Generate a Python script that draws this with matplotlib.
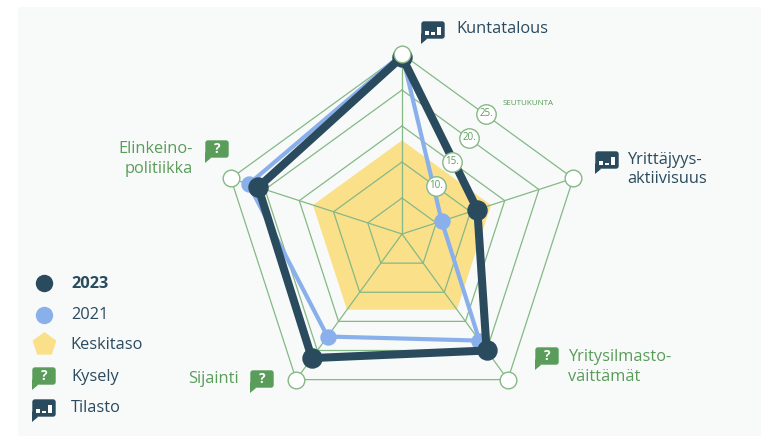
import numpy as np
import matplotlib
matplotlib.use('Agg')
import matplotlib.pyplot as plt
from matplotlib.patches import FancyBboxPatch, Polygon, Rectangle, RegularPolygon

plt.rcParams['font.family'] = ['Open Sans', 'DejaVu Sans']

# Data
axis_labels = ['Kuntatalous', 'Yrittäjyys-\naktiivisuus', 'Yritysilmasto-\nväittämät', 'Sijainti', 'Elinkeino-\npolitiikka']
values_2023 = [24.6, 11, 20, 21.3, 21]
values_2021 = [25, 5.8, 18.3, 17.6, 22.4]
values_avg = [13, 13, 13, 13, 13]
rings = [5, 10, 15, 20, 25]
ring_labels = ['10.', '15.', '20.', '25.']
ring_label_vals = [10, 15, 20, 25]

dark = '#2A4A5E'
blue = '#8AB0EC'
yellow = '#FBE08A'
green = '#5A9C5A'
grid_green = '#86B886'
bg = '#F7FAF8'
W, H = 761, 436
FS = 11.8

fig = plt.figure(figsize=(W / 100, H / 100), dpi=100, facecolor='white')


def pixel_axes(z):
    a = fig.add_axes([0, 0, 1, 1], zorder=z)
    a.set_xlim(0, W)
    a.set_ylim(H, 0)
    a.axis('off')
    return a


# background panel underneath, icons and text on top
back = pixel_axes(0)
back.add_patch(Rectangle((18, 7), W - 18, H - 7, color=bg, lw=0))
over = pixel_axes(2)

# radar
cx, cy, R = 402, 234, 180
ax = fig.add_axes([(cx - R) / W, 1 - (cy + R) / H, 2 * R / W, 2 * R / H], projection='polar', zorder=1)
ax.patch.set_alpha(0)
ax.set_theta_zero_location('N')
ax.set_theta_direction(-1)
ax.set_ylim(0, 25)
ax.axis('off')

angles = np.deg2rad(np.arange(5) * 72)


def closed(a):
    return np.r_[a, a[0]]


ax.fill(closed(angles), closed(values_avg), color=yellow, lw=0, zorder=1)
for r in rings:
    ax.plot(closed(angles), [r] * 6, color=grid_green, lw=0.9, zorder=2)
for t in angles:
    ax.plot([t, t], [0, 25], color=grid_green, lw=0.9, zorder=2)

ax.plot(closed(angles), closed(values_2021), color=blue, lw=3, zorder=3, clip_on=False)
ax.plot(angles, values_2021, 'o', color=blue, ms=10.8, zorder=3, clip_on=False)
ax.plot(closed(angles), closed(values_2023), color=dark, lw=5.8, zorder=4, clip_on=False, solid_joinstyle='round')
ax.plot(angles, values_2023, 'o', color=dark, ms=13.7, zorder=4, clip_on=False)
ax.plot(angles, [25] * 5, 'o', mfc='white', mec=grid_green, mew=1, ms=12, zorder=5, clip_on=False)

# ring labels sit about halfway between the first two spokes
mid = np.deg2rad(35)
for v, s in zip(ring_label_vals, ring_labels):
    r = v * 0.815
    ax.plot([mid], [r], 'o', mfc='white', mec=grid_green, mew=1, ms=14, zorder=6, clip_on=False)
    ax.text(mid, r, s, color=green, fontsize=7, ha='center', va='center', zorder=7)


def bubble(x, y, color, kind):
    # x, y = top left of the bubble, 24x19 px body with a tail at lower left
    over.add_patch(FancyBboxPatch((x + 1, y + 1), 22, 16, boxstyle='round,pad=0,rounding_size=2', fc=color, ec=color, lw=1))
    over.add_patch(Polygon([(x, y + 12), (x + 6, y + 18), (x, y + 23)], fc=color, ec='none'))
    if kind == '?':
        over.text(x + 12, y + 8.5, '?', color='white', fontsize=10, fontweight='bold', ha='center', va='center')
    else:
        over.add_patch(Rectangle((x + 4, y + 10), 4, 4, fc='white', ec='none'))
        over.add_patch(Rectangle((x + 10, y + 11.5), 4, 2.5, fc='white', ec='none'))
        over.add_patch(Rectangle((x + 16, y + 6), 4, 8, fc='white', ec='none'))


# axis labels
bubble(421, 21, dark, 'bar')
over.text(456, 29, axis_labels[0], color=dark, fontsize=FS, ha='left', va='center')
bubble(595, 151, dark, 'bar')
over.text(627, 169.5, axis_labels[1], color=dark, fontsize=FS, ha='left', va='center', linespacing=1.3)
bubble(535, 347, green, '?')
over.text(568, 367, axis_labels[2], color=green, fontsize=FS, ha='left', va='center', linespacing=1.3)
bubble(250, 370, green, '?')
over.text(239, 379, axis_labels[3], color=green, fontsize=FS, ha='right', va='center')
bubble(205, 140, green, '?')
over.text(193, 159, axis_labels[4], color=green, fontsize=FS, ha='right', va='center', linespacing=1.35, multialignment='right')
over.text(503, 103, 'SEUTUKUNTA', color=green, fontsize=5.8, ha='left', va='center')

# legend
over.plot(44, 283, 'o', color=dark, ms=11.5)
over.text(71, 284, '2023', color=dark, fontsize=FS, fontweight='bold', va='center')
over.plot(44, 315, 'o', color=blue, ms=11.5)
over.text(71, 315, '2021', color=dark, fontsize=FS, va='center')
over.add_patch(RegularPolygon((44.5, 344.5), 5, radius=12.5, orientation=np.pi, fc=yellow, ec='none'))
over.text(70, 345, 'Keskitaso', color=dark, fontsize=FS, va='center')
bubble(32, 367, green, '?')
over.text(71, 377, 'Kysely', color=dark, fontsize=FS, va='center')
bubble(32, 399, dark, 'bar')
over.text(71, 408, 'Tilasto', color=dark, fontsize=FS, va='center')

fig.savefig('out.png', dpi=100, facecolor='white')
